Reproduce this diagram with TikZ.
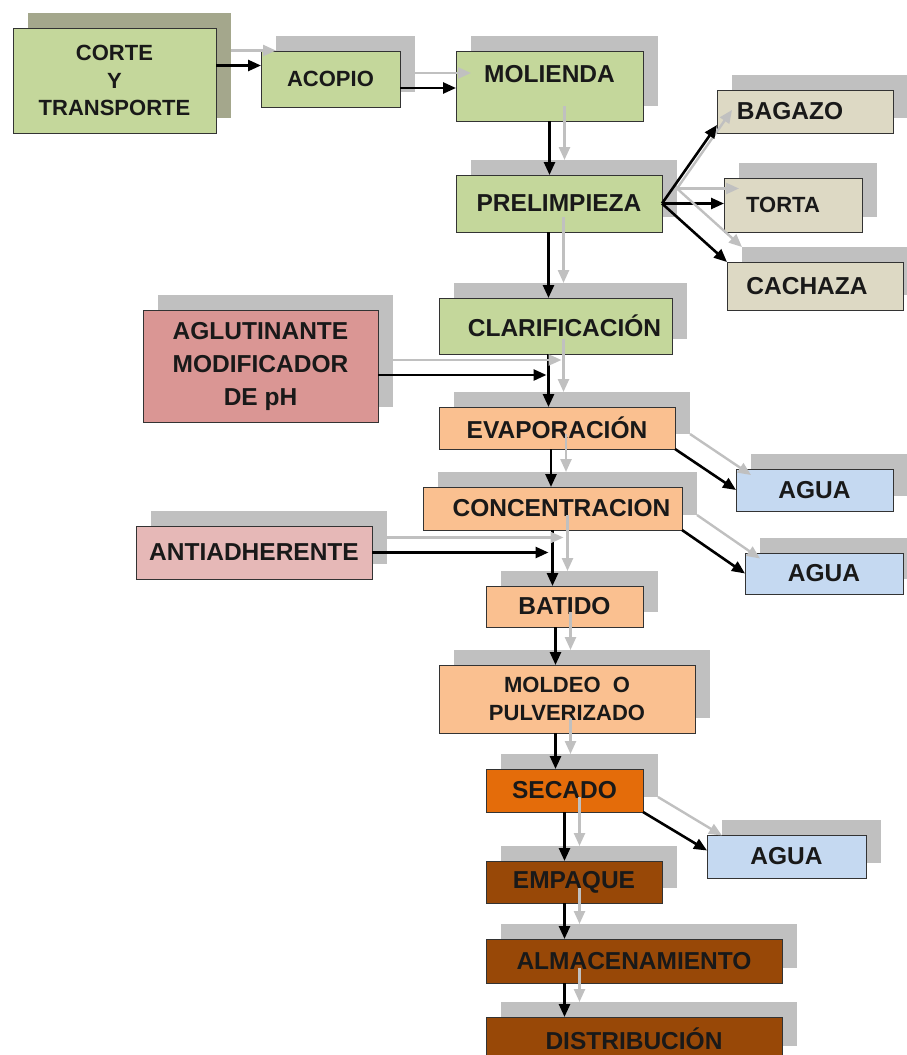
\documentclass[tikz,border=0pt]{standalone}
\usepackage{fontspec}
\setmainfont{Liberation Sans}
\usepackage{tikz}
\usetikzlibrary{arrows.meta, shadows, calc}

\definecolor{verde}{RGB}{196,215,155}
\definecolor{beige}{RGB}{221,217,196}
\definecolor{rojo}{RGB}{218,150,148}
\definecolor{rosa}{RGB}{230,184,183}
\definecolor{naranjaclaro}{RGB}{250,192,144}
\definecolor{naranja}{RGB}{228,108,10}
\definecolor{cafe}{RGB}{152,72,7}
\definecolor{azul}{RGB}{197,217,241}
\definecolor{gris}{RGB}{192,192,192}
\definecolor{oliva}{RGB}{164,167,140}

\newcommand{\grande}{\fontsize{24.5}{33}\selectfont\bfseries}
\newcommand{\chica}{\fontsize{22}{27.5}\selectfont\bfseries}
% cada conector va dos veces: sombra gris corrida y flecha negra
\newcommand{\flecha}[2]{%
  \draw[flsombra] #1 -- #2;
  \draw[fl] #1 -- #2;}

\begin{document}
\begin{tikzpicture}[
  x=1pt, y=-1pt,
  caja/.style = {
    rectangle, draw=black!80, line width=0.9pt,
    inner sep=0pt, outer sep=0pt, align=center,
    font=\grande, text=black!90,
    general shadow={fill=gris, shadow xshift=15pt, shadow yshift=15pt}
  },
  cajaverde/.style = {caja, fill=verde},
  cajasub/.style   = {caja, fill=beige},
  cajaagua/.style  = {caja, fill=azul},
  cajanar/.style   = {caja, fill=naranjaclaro},
  cajacafe/.style  = {caja, fill=cafe},
  fl/.style        = {-{Triangle[length=13pt,width=11pt]}, line width=2.6pt, black},
  flsombra/.style  = {fl, gris, line width=2.4pt,
                      transform canvas={xshift=15pt, yshift=15pt}}
]
\useasboundingbox (0,0) rectangle (906,1055);

%% ---- recepcion (fila de arriba) ----
\node[cajaverde, font=\chica, minimum width=203, minimum height=105,
  general shadow={fill=oliva, shadow xshift=15pt, shadow yshift=15pt}]
  (corte) at (114.5,80.5) {CORTE\\Y\\TRANSPORTE};
\node[cajaverde, font=\chica, minimum width=139, minimum height=56]
  (acopio) at (330.5,79) {ACOPIO};
\node[cajaverde, minimum width=187, minimum height=70, text depth=24pt]
  (molienda) at (549.5,86) {MOLIENDA};

%% ---- limpieza y subproductos ----
\node[cajaverde, minimum width=206, minimum height=57]
  (prelimpieza) at (559,203.5) {PRELIMPIEZA};
\node[cajasub, minimum width=176, minimum height=43]
  (bagazo) at (805,111.5) {BAGAZO\hspace*{30pt}};
\node[cajasub, font=\chica, minimum width=138, minimum height=54]
  (torta) at (793,205) {TORTA\hspace*{20pt}};
\node[cajasub, minimum width=176, minimum height=48]
  (cachaza) at (815,286) {CACHAZA\hspace*{16pt}};

%% ---- jugo ----
\node[cajaverde, minimum width=233, minimum height=56]
  (clarificacion) at (555.5,326) {\hspace*{18pt}CLARIFICACIÓN};
\node[caja, fill=rojo, minimum width=235, minimum height=112]
  (aglutinante) at (260.5,366) {AGLUTINANTE\\MODIFICADOR\\DE pH};
\node[cajanar, minimum width=236, minimum height=42]
  (evaporacion) at (557,428) {EVAPORACIÓN};
\node[cajanar, minimum width=259, minimum height=43]
  (concentracion) at (552.5,508.5) {\hspace*{18pt}CONCENTRACION};
\node[cajaagua, minimum width=157, minimum height=42]
  (agua1) at (814.5,490) {AGUA};
\node[cajaagua, minimum width=158, minimum height=41]
  (agua2) at (824,573.5) {AGUA};
\node[caja, fill=rosa, minimum width=236, minimum height=53]
  (antiadherente) at (254,552.5) {ANTIADHERENTE};

%% ---- panela ----
\node[cajanar, minimum width=157, minimum height=41]
  (batido) at (564.5,606.5) {BATIDO};
\node[cajanar, font=\chica, minimum width=256, minimum height=68]
  (moldeo) at (567,699) {MOLDEO\ \ O\\PULVERIZADO};
\node[caja, fill=naranja, minimum width=157, minimum height=43]
  (secado) at (564.5,790.5) {SECADO};
\node[cajaagua, minimum width=159, minimum height=43]
  (agua3) at (786.5,856.5) {AGUA};
\node[cajacafe, minimum width=176, minimum height=42]
  (empaque) at (574,882) {EMPAQUE};
\node[cajacafe, minimum width=296, minimum height=44]
  (almacenamiento) at (634,961) {ALMACENAMIENTO};
\node[cajacafe, minimum width=296, minimum height=44]
  (distribucion) at (634,1039) {DISTRIBUCIÓN};

%% ---- conectores ----
\coordinate (s1) at ([yshift=15pt]corte.east);
\coordinate (s2) at ([yshift=-9pt]acopio.east);
\coordinate (s3) at ([xshift=-7pt]clarificacion.south);
\coordinate (s4) at ([yshift=-9pt]aglutinante.east);
\coordinate (s5) at ([xshift=-6pt]evaporacion.south);
\coordinate (s6) at ([xshift=-9pt]batido.south);

\flecha{(s1)}{(s1 -| acopio.west)}
\flecha{(s2)}{(s2 -| molienda.west)}
\flecha{(molienda.south)}{(molienda.south |- prelimpieza.north)}
\flecha{(prelimpieza.east)}{([yshift=8pt]bagazo.south west)}
\flecha{(prelimpieza.east)}{(prelimpieza.east -| torta.west)}
\flecha{(prelimpieza.east)}{(cachaza.north west)}
\flecha{(s3 |- prelimpieza.south)}{(s3 |- clarificacion.north)}
\flecha{(s3)}{(s3 |- evaporacion.north)}
\flecha{(s4)}{([xshift=-2pt]s4 -| s3)}
\flecha{(s5)}{(s5 |- concentracion.north)}
\flecha{(evaporacion.south east)}{(agua1.west)}
\flecha{(concentracion.south east)}{(agua2.west)}
\flecha{(concentracion.south)}{(concentracion.south |- batido.north)}
\flecha{(antiadherente.east)}{([xshift=-4pt]antiadherente.east -| concentracion.south)}
\flecha{(s6)}{(s6 |- moldeo.north)}
\flecha{(s6 |- moldeo.south)}{(s6 |- secado.north)}
\flecha{(secado.south east)}{([yshift=6pt]agua3.west)}
\flecha{(secado.south)}{(secado.south |- empaque.north)}
\flecha{(secado.south |- empaque.south)}{(secado.south |- almacenamiento.north)}
\flecha{(secado.south |- almacenamiento.south)}{(secado.south |- distribucion.north)}

\end{tikzpicture}
\end{document}
